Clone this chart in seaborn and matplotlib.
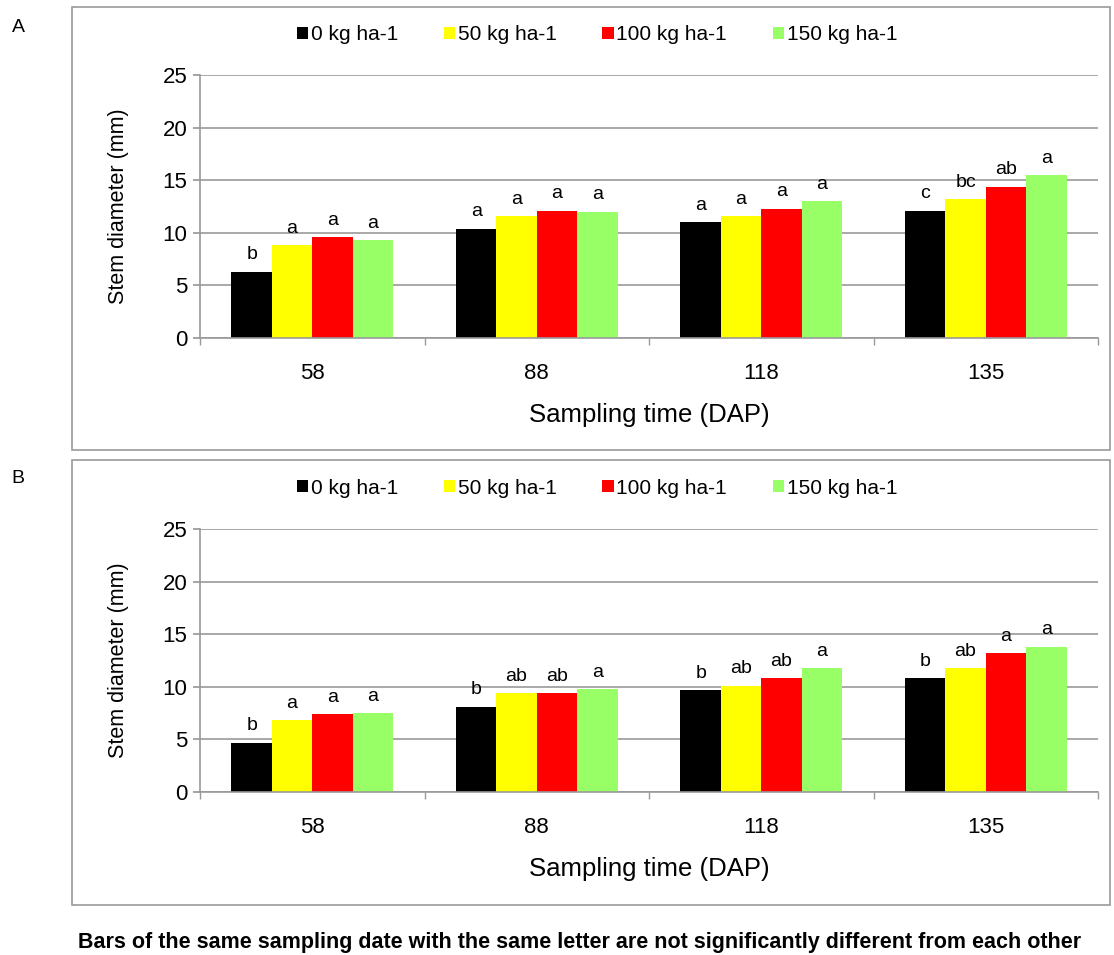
import matplotlib
matplotlib.use("Agg")
import matplotlib.pyplot as plt
import seaborn as sns
import pandas as pd
from matplotlib.patches import Rectangle

# ---- data ----
times = ["58", "88", "118", "135"]
doses = ["0 kg ha-1", "50 kg ha-1", "100 kg ha-1", "150 kg ha-1"]
colors = ["#000000", "#FFFF00", "#FF0000", "#99FF66"]

# Panel A values (per dose, per sampling time)
a_0 = [6.3, 10.4, 11.0, 12.1]
a_50 = [8.8, 11.6, 11.6, 13.2]
a_100 = [9.6, 12.1, 12.3, 14.4]
a_150 = [9.3, 12.0, 13.0, 15.5]
a_letters_0 = ["b", "a", "a", "c"]
a_letters_50 = ["a", "a", "a", "bc"]
a_letters_100 = ["a", "a", "a", "ab"]
a_letters_150 = ["a", "a", "a", "a"]

# Panel B values
b_0 = [4.7, 8.1, 9.7, 10.8]
b_50 = [6.8, 9.4, 10.1, 11.8]
b_100 = [7.4, 9.4, 10.8, 13.2]
b_150 = [7.5, 9.8, 11.8, 13.8]
b_letters_0 = ["b", "b", "b", "b"]
b_letters_50 = ["a", "ab", "ab", "ab"]
b_letters_100 = ["a", "ab", "ab", "a"]
b_letters_150 = ["a", "a", "a", "a"]

yticks = [0, 5, 10, 15, 20, 25]


def make_df(series):
    rows = []
    for d, vals in zip(doses, series):
        for t, v in zip(times, vals):
            rows.append({"time": t, "dose": d, "value": v})
    return pd.DataFrame(rows)


sns.set_theme(style="white")
plt.rcParams["font.family"] = ["Liberation Sans", "DejaVu Sans"]
plt.rcParams["text.color"] = "black"
plt.rcParams["axes.labelcolor"] = "black"
plt.rcParams["xtick.color"] = "black"
plt.rcParams["ytick.color"] = "black"

W, H = 1114, 955
fig = plt.figure(figsize=(W / 100, H / 100), dpi=100)


def fx(px):
    return px / W


def fy(py):
    return 1 - py / H


def draw_panel(ax_top_px, ax_bot_px, series, letters, box, label, label_y):
    ax = fig.add_axes([fx(200), fy(ax_bot_px), fx(898), (ax_bot_px - ax_top_px) / H])
    df = make_df(series)
    sns.barplot(data=df, x="time", y="value", hue="dose", order=times,
                hue_order=doses, palette=colors, width=0.72, gap=0,
                saturation=1, ax=ax, errorbar=None, legend=True, linewidth=0)
    ax.set_ylim(0, 25)
    ax.set_yticks(yticks)
    ax.set_xlim(-0.5, 3.5)
    ax.yaxis.grid(True, color="#999999", linewidth=1.2)
    ax.set_axisbelow(True)
    for s in ["top", "right"]:
        ax.spines[s].set_visible(False)
    for s in ["left", "bottom"]:
        ax.spines[s].set_color("#999999")
        ax.spines[s].set_linewidth(1.2)
    ax.tick_params(axis="y", which="major", left=True, length=5, color="#999999",
                   labelsize=16, pad=4)
    ax.tick_params(axis="x", which="major", bottom=False, labelsize=16, pad=12)
    ax.set_xticks(range(len(times)))
    ax.set_xticklabels(times)
    ax.set_xticks([-0.5, 0.5, 1.5, 2.5, 3.5], minor=True)
    ax.tick_params(axis="x", which="minor", bottom=True, length=5, color="#999999")
    ax.set_xlabel("Sampling time (DAP)", fontsize=18.5, labelpad=14)
    ax.set_ylabel("Stem diameter (mm)", fontsize=15.5, labelpad=24)

    for cont, labs in zip(ax.containers, letters):
        for bar, lab in zip(cont, labs):
            ax.annotate(lab, (bar.get_x() + bar.get_width() / 2, bar.get_height()),
                        xytext=(0, 6), textcoords="offset points",
                        ha="center", va="bottom", fontsize=14)

    handles, labels_ = ax.get_legend_handles_labels()
    ax.get_legend().remove()
    leg_y = fy(box[1] + 28)
    fig.legend(handles, labels_, loc="center", bbox_to_anchor=(fx(597), leg_y),
               ncol=4, frameon=False, fontsize=15, handlelength=0.55,
               handleheight=0.55, handletextpad=0.12, columnspacing=2.2)

    x0, y0, x1, y1 = box
    fig.patches.append(Rectangle((fx(x0), fy(y1)), fx(x1 - x0), (y1 - y0) / H,
                                 transform=fig.transFigure, fill=False,
                                 edgecolor="#999999", linewidth=1.2))
    fig.text(fx(18), fy(label_y), label, fontsize=14, ha="center", va="center")
    return ax


draw_panel(75, 338, [a_0, a_50, a_100, a_150],
           [a_letters_0, a_letters_50, a_letters_100, a_letters_150],
           (72, 7, 1110, 450), "A", 28)
draw_panel(529, 792, [b_0, b_50, b_100, b_150],
           [b_letters_0, b_letters_50, b_letters_100, b_letters_150],
           (72, 460, 1110, 905), "B", 478)

fig.text(fx(78), fy(942), "Bars of the same sampling date with the same letter are not "
         "significantly different from each other", fontsize=15.5, fontweight="bold",
         ha="left", va="center")

fig.savefig("out.png", dpi=100)
